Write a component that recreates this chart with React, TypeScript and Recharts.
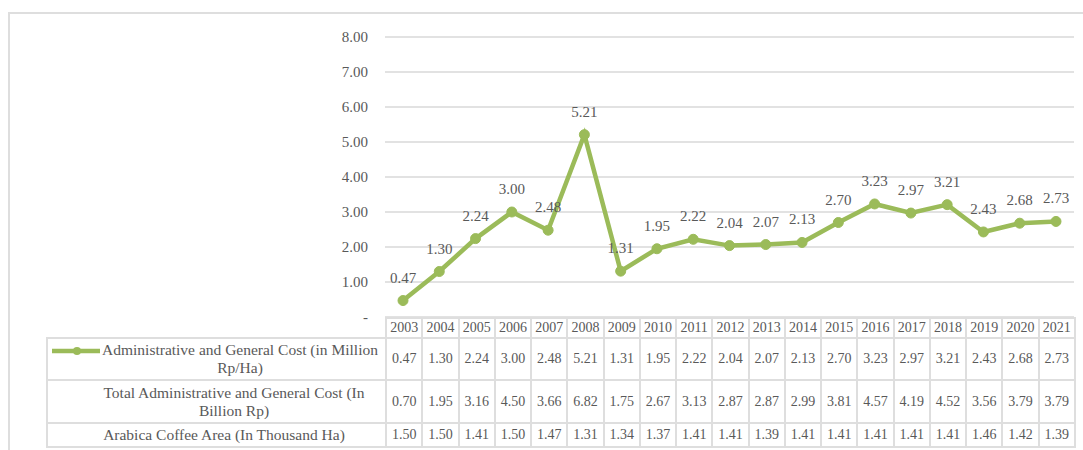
import React from "react";
import { LineChart, Line, XAxis, YAxis, CartesianGrid, LabelList } from "recharts";

const years = [
  "2003", "2004", "2005", "2006", "2007", "2008", "2009", "2010", "2011", "2012",
  "2013", "2014", "2015", "2016", "2017", "2018", "2019", "2020", "2021",
];
const costPerHa = [
  0.47, 1.3, 2.24, 3.0, 2.48, 5.21, 1.31, 1.95, 2.22, 2.04,
  2.07, 2.13, 2.7, 3.23, 2.97, 3.21, 2.43, 2.68, 2.73,
];
const totalCost = [
  0.7, 1.95, 3.16, 4.5, 3.66, 6.82, 1.75, 2.67, 3.13, 2.87,
  2.87, 2.99, 3.81, 4.57, 4.19, 4.52, 3.56, 3.79, 3.79,
];
const coffeeArea = [
  1.5, 1.5, 1.41, 1.5, 1.47, 1.31, 1.34, 1.37, 1.41, 1.41,
  1.39, 1.41, 1.41, 1.41, 1.41, 1.41, 1.46, 1.42, 1.39,
];
const yTicks = [0, 1, 2, 3, 4, 5, 6, 7, 8];

const rowLabels = [
  ["Administrative and General Cost (in Million", "Rp/Ha)"],
  ["Total Administrative and General Cost (In", "Billion Rp)"],
  ["Arabica Coffee Area (In Thousand Ha)"],
];

const data = years.map((y, i) => ({ year: y, cost: costPerHa[i] }));

const GREEN = "#9bbb59";
const TEXT = "#595959";
const BORDER = "2px solid #dedede";
const FONT = "Liberation Serif, Tinos, Times New Roman, DejaVu Serif, serif";

const cell: React.CSSProperties = {
  border: BORDER,
  textAlign: "center",
  verticalAlign: "middle",
  padding: 0,
  fontSize: 14,
  color: TEXT,
};

export default function App() {
  const rows = [costPerHa, totalCost, coffeeArea];
  const rowHeights = [42, 43, 24];
  const rightPad = [7, 19, 39];
  return (
    <div
      style={{
        position: "fixed",
        left: 0,
        top: 0,
        width: 1083,
        height: 450,
        background: "#fff",
        fontFamily: FONT,
        overflow: "hidden",
      }}
    >
      <div
        style={{
          position: "absolute",
          left: 8,
          top: 12,
          width: 1100,
          height: 460,
          borderLeft: BORDER,
          borderTop: BORDER,
        }}
      />
      <div style={{ position: "absolute", left: 0, top: 0 }}>
        <LineChart
          width={1083}
          height={330}
          data={data}
          margin={{ top: 37, right: 9, bottom: 13, left: 325 }}
        >
          <CartesianGrid horizontal vertical={false} stroke="#d9d9d9" strokeWidth={1.5} />
          <XAxis dataKey="year" hide padding={{ left: 18, right: 18 }} />
          <YAxis
            width={60}
            domain={[0, 8]}
            ticks={yTicks}
            axisLine={false}
            tickLine={false}
            tickSize={0}
            tickMargin={17}
            tick={{ fill: TEXT, fontSize: 15, fontFamily: FONT }}
            tickFormatter={(v: number) => (v === 0 ? "-" : v.toFixed(2))}
          />
          <Line
            type="linear"
            dataKey="cost"
            stroke={GREEN}
            strokeWidth={4.5}
            dot={{ r: 5, fill: GREEN, stroke: GREEN, strokeWidth: 1 }}
            isAnimationActive={false}
          >
            <LabelList
              dataKey="cost"
              position="top"
              offset={18}
              formatter={(v: number) => v.toFixed(2)}
              style={{ fill: TEXT, fontSize: 15, fontFamily: FONT }}
            />
          </Line>
        </LineChart>
      </div>
      <table
        style={{
          position: "absolute",
          left: 46,
          top: 317,
          borderCollapse: "collapse",
          tableLayout: "fixed",
          width: 1029,
          fontFamily: FONT,
        }}
      >
        <colgroup>
          <col style={{ width: 339 }} />
          {years.map((y) => (
            <col key={y} style={{ width: 689 / 19 }} />
          ))}
        </colgroup>
        <tbody>
          <tr style={{ height: 20 }}>
            <td style={{ border: "none", padding: 0 }} />
            {years.map((y) => (
              <td key={y} style={cell}>
                {y}
              </td>
            ))}
          </tr>
          {rows.map((vals, r) => (
            <tr key={r} style={{ height: rowHeights[r] }}>
              <td
                style={{
                  ...cell,
                  fontSize: 15.5,
                  position: "relative",
                  paddingLeft: 54,
                  paddingRight: rightPad[r],
                  lineHeight: "18px",
                  whiteSpace: "nowrap",
                }}
              >
                {r === 0 && (
                  <svg
                    width={50}
                    height={10}
                    style={{ position: "absolute", left: 3, top: 7 }}
                  >
                    <line x1={1} y1={5} x2={49} y2={5} stroke={GREEN} strokeWidth={4.5} />
                    <circle cx={26} cy={5} r={4} fill={GREEN} />
                  </svg>
                )}
                {rowLabels[r].map((ln, k) => (
                  <div key={k}>{ln}</div>
                ))}
              </td>
              {vals.map((v, i) => (
                <td key={i} style={cell}>
                  {v.toFixed(2)}
                </td>
              ))}
            </tr>
          ))}
        </tbody>
      </table>
    </div>
  );
}
